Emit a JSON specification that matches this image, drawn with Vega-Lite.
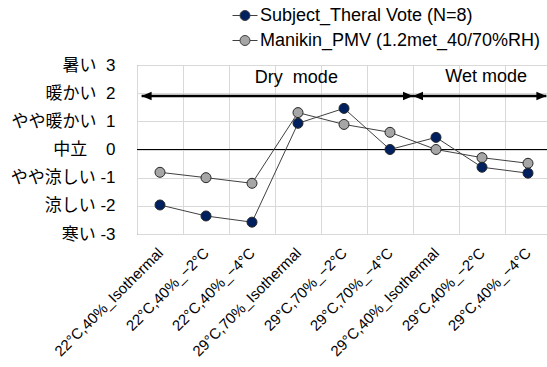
{
  "$schema": "https://vega.github.io/schema/vega-lite/v6.json",
  "autosize": {"type": "none"},
  "padding": {"left": 137, "top": 65, "right": 0, "bottom": 133},
  "width": 410,
  "height": 169,
  "background": "white",
  "config": {
    "font": "Liberation Sans, Noto Sans CJK JP",
    "view": {"stroke": "#595959", "strokeWidth": 1}
  },
  "resolve": {"scale": {"x": "independent"}},
  "encoding": {
    "y": {"field": "value", "type": "quantitative", "scale": {"domain": [-3, 3], "nice": false},
      "axis": {"title": null, "values": [-3, -2, -1, 0, 1, 2, 3], "tickCount": 7, "ticks": false, "domain": false, "grid": true, "gridColor": "#d9d9d9", "gridWidth": 1, "labelFontSize": 17, "labelColor": "#000000", "labelPadding": 22, "labelOverlap": false, "labelFont": "Liberation Sans, Noto Sans CJK JP",
        "labelExpr": "datum.value == 3 ? '暑い\u00a0\u00a03' : datum.value == 2 ? '暖かい\u00a0\u00a02' : datum.value == 1 ? 'やや暖かい\u00a0\u00a01' : datum.value == 0 ? '中立\u00a0\u00a0\u00a0\u00a00' : datum.value == -1 ? 'やや涼しい\u00a0-1' : datum.value == -2 ? '涼しい\u00a0-2' : '寒い\u00a0-3'"}}
  },
  "layer": [
    {
      "data": {"values": [{"value": 0}]},
      "mark": {"type": "rule", "color": "#000000", "strokeWidth": 1.2}
    },
    {
      "data": {"values": [
        {"x": 0.1, "x2": 6, "value": 1.9},
        {"x": 6, "x2": 8.9, "value": 1.9}
      ]},
      "mark": {"type": "rule", "color": "#000000", "strokeWidth": 2.5},
      "encoding": {
        "x": {"field": "x", "type": "quantitative", "scale": {"domain": [0, 9], "range": [0, 414], "nice": false, "zero": false}, "axis": null},
        "x2": {"field": "x2"}
      }
    },
    {
      "data": {"values": [
        {"x": 0.1, "value": 1.9, "dir": "left"},
        {"x": 6, "value": 1.9, "dir": "right"},
        {"x": 6, "value": 1.9, "dir": "left"},
        {"x": 8.9, "value": 1.9, "dir": "right"}
      ]},
      "mark": {"type": "point", "filled": true, "opacity": 1, "color": "#000000", "size": 100},
      "encoding": {
        "x": {"field": "x", "type": "quantitative", "scale": {"domain": [0, 9], "range": [0, 414], "nice": false, "zero": false}, "axis": null},
        "shape": {"field": "dir", "type": "nominal", "scale": {"domain": ["left", "right"], "range": ["M0,0L2,-0.85L2,0.85Z", "M0,0L-2,-0.85L-2,0.85Z"]}, "legend": null}
      }
    },
    {
      "data": {"values": [
        {"x": 3.465, "value": 2.54, "label": "Dry\u00a0\u00a0mode"},
        {"x": 7.59, "value": 2.57, "label": "Wet\u00a0mode"}
      ]},
      "mark": {"type": "text", "fontSize": 18, "font": "Liberation Sans", "color": "#000000", "align": "center", "baseline": "middle"},
      "encoding": {
        "x": {"field": "x", "type": "quantitative", "scale": {"domain": [0, 9], "range": [0, 414], "nice": false, "zero": false}, "axis": null},
        "text": {"field": "label"}
      }
    },
    {
      "data": {"name": "main"},
      "mark": {"type": "line", "color": "#404040", "strokeWidth": 1},
      "encoding": {
        "x": {"field": "cond", "type": "nominal", "sort": null, "scale": {"type": "band", "range": [0, 414], "paddingInner": 0, "paddingOuter": 0}, "axis": null},
        "detail": {"field": "series"}
      }
    },
    {
      "data": {"name": "main"},
      "mark": {"type": "point", "filled": true, "opacity": 1, "size": 100, "stroke": "#262626", "strokeWidth": 1},
      "encoding": {
        "x": {"field": "cond", "type": "nominal", "sort": null, "scale": {"type": "band", "range": [0, 414], "paddingInner": 0, "paddingOuter": 0},
          "axis": {"title": null, "labelAngle": -45, "labelAlign": "right", "labelBaseline": "middle", "labelFontSize": 15, "labelFont": "Liberation Sans", "labelColor": "#000000", "labelPadding": 16, "ticks": false, "domain": false, "grid": true, "gridColor": "#d9d9d9", "gridWidth": 1, "tickBand": "extent", "labelOverlap": false, "labelLimit": 300}},
        "fill": {"field": "series", "type": "nominal",
          "scale": {"domain": ["Subject_Theral Vote (N=8)", "Manikin_PMV (1.2met_40/70%RH)"], "range": ["#002060", "#a6a6a6"]},
          "legend": {"orient": "none", "legendX": 95, "legendY": -62.5, "title": null, "padding": 0,
            "symbolType": "M-1,0H-0.4M0.4,0H1M-0.4,0A0.4,0.4 0 1,1 0.4,0A0.4,0.4 0 1,1 -0.4,0Z",
            "symbolSize": 625, "symbolStrokeColor": "#404040", "symbolStrokeWidth": 1, "symbolOpacity": 1,
            "labelFontSize": 18, "labelFont": "Liberation Sans", "labelColor": "#000000", "labelOffset": 2, "rowPadding": 3, "labelLimit": 400}}
      }
    }
  ],
  "datasets": {
    "main": [
      {"cond": "22°C,40%_Isothermal", "series": "Manikin_PMV (1.2met_40/70%RH)", "value": -0.81},
      {"cond": "22°C,40%_−2°C", "series": "Manikin_PMV (1.2met_40/70%RH)", "value": -1.0},
      {"cond": "22°C,40%_−4°C", "series": "Manikin_PMV (1.2met_40/70%RH)", "value": -1.2},
      {"cond": "29°C,70%_Isothermal", "series": "Manikin_PMV (1.2met_40/70%RH)", "value": 1.31},
      {"cond": "29°C,70%_−2°C", "series": "Manikin_PMV (1.2met_40/70%RH)", "value": 0.89},
      {"cond": "29°C,70%_−4°C", "series": "Manikin_PMV (1.2met_40/70%RH)", "value": 0.61},
      {"cond": "29°C,40%_Isothermal", "series": "Manikin_PMV (1.2met_40/70%RH)", "value": 0.0},
      {"cond": "29°C,40%_−2°C", "series": "Manikin_PMV (1.2met_40/70%RH)", "value": -0.29},
      {"cond": "29°C,40%_−4°C", "series": "Manikin_PMV (1.2met_40/70%RH)", "value": -0.49},
      {"cond": "22°C,40%_Isothermal", "series": "Subject_Theral Vote (N=8)", "value": -1.97},
      {"cond": "22°C,40%_−2°C", "series": "Subject_Theral Vote (N=8)", "value": -2.36},
      {"cond": "22°C,40%_−4°C", "series": "Subject_Theral Vote (N=8)", "value": -2.58},
      {"cond": "29°C,70%_Isothermal", "series": "Subject_Theral Vote (N=8)", "value": 0.93},
      {"cond": "29°C,70%_−2°C", "series": "Subject_Theral Vote (N=8)", "value": 1.46},
      {"cond": "29°C,70%_−4°C", "series": "Subject_Theral Vote (N=8)", "value": 0.0},
      {"cond": "29°C,40%_Isothermal", "series": "Subject_Theral Vote (N=8)", "value": 0.43},
      {"cond": "29°C,40%_−2°C", "series": "Subject_Theral Vote (N=8)", "value": -0.63},
      {"cond": "29°C,40%_−4°C", "series": "Subject_Theral Vote (N=8)", "value": -0.84}
    ]
  }
}
